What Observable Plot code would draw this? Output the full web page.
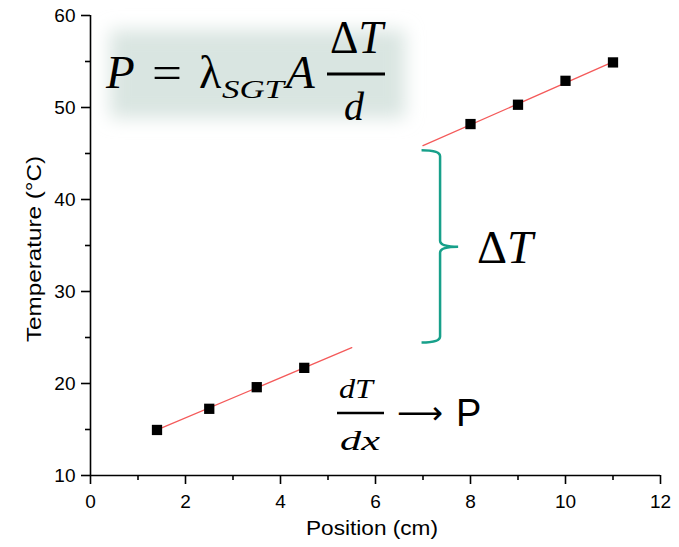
<!DOCTYPE html>
<html><head><meta charset="utf-8">
<script src="https://cdn.jsdelivr.net/npm/d3@7"></script>
<script src="https://cdn.jsdelivr.net/npm/@observablehq/plot@0.6"></script>
<style>body{margin:0;background:#fff;} #chart{position:relative;width:679px;height:547px;}</style>
</head><body><div id="chart"></div>
<script>
// Measured data (position in cm, temperature in °C)
const positions = [1.4, 2.5, 3.5, 4.5, 8, 9, 10, 11];
const temperatures = [14.95, 17.25, 19.6, 21.7, 48.2, 50.3, 52.9, 54.9];
// Linear fit segments (endpoints)
const fitLowX = [1.4, 5.5];
const fitLowY = [14.95, 23.9];
const fitHighX = [7.0, 11.0];
const fitHighY = [45.85, 54.95];
// Axis ticks
const xTicks = [0, 2, 4, 6, 8, 10, 12];
const xMinor = [1, 3, 5, 7, 9, 11];
const yTicks = [10, 20, 30, 40, 50, 60];
const yMinor = [15, 25, 35, 45, 55];
// Brace annotation anchors (x: ends, stem, tip; y: top, middle, bottom)
const braceX = [6.98, 7.37, 7.75];
const braceY = [45.3, 34.8, 24.4];
// Texts
const xLabel = "Position (cm)";
const yLabel = "Temperature (°C)";

const points = positions.map((x, i) => ({x, y: temperatures[i]}));
const fits = [
  ...fitLowX.map((x, i) => ({x, y: fitLowY[i], s: "low"})),
  ...fitHighX.map((x, i) => ({x, y: fitHighY[i], s: "high"}))
];

const axisStroke = 1.6;
const plot = Plot.plot({
  width: 679, height: 547,
  marginLeft: 90, marginRight: 19, marginTop: 15, marginBottom: 72,
  x: {domain: [0, 12], label: null},
  y: {domain: [10, 60], label: null},
  style: {fontFamily: "'Liberation Sans', Arial, sans-serif", fontSize: "19px", background: "white", color: "black", overflow: "visible"},
  marks: [
    Plot.line(fits, {x: "x", y: "y", z: "s", stroke: "#f45a5a", strokeWidth: 1.3}),
    Plot.dot(points, {x: "x", y: "y", symbol: "square", r: 5.8, fill: "black", stroke: "none"}),
    Plot.ruleX([0], {stroke: "black", strokeWidth: axisStroke}),
    Plot.ruleY([10], {stroke: "black", strokeWidth: axisStroke}),
    Plot.axisX({ticks: xTicks, tickSize: 9, tickPadding: 10, strokeWidth: axisStroke, fontSize: 19, label: null, tickFormat: d => String(d)}),
    Plot.axisX({ticks: xMinor, tickSize: 5, strokeWidth: axisStroke, label: null, tickFormat: () => ""}),
    Plot.axisY({ticks: yTicks, tickSize: 9, tickPadding: 6, strokeWidth: axisStroke, fontSize: 19, label: null, tickFormat: d => String(d)}),
    Plot.axisY({ticks: yMinor, tickSize: 5, strokeWidth: axisStroke, label: null, tickFormat: () => ""})
  ]
});
document.getElementById("chart").appendChild(plot);

const svg = d3.select(plot);
svg.selectAll('g[aria-label$="tick label"]').attr("font-size", 19);
const xs = plot.scale("x"), ys = plot.scale("y");

// soft background behind formula
const defs = svg.insert("defs", ":first-child");
const f = defs.append("filter").attr("id", "soft").attr("x", "-40%").attr("y", "-40%").attr("width", "180%").attr("height", "180%");
f.append("feGaussianBlur").attr("stdDeviation", 9);
svg.insert("rect", "defs + *").attr("x", 110).attr("y", 30).attr("width", 295).attr("height", 88)
  .attr("fill", "#d9e5e1").attr("filter", "url(#soft)");

const ann = svg.append("g").attr("text-anchor", "start");
const serif = "'Liberation Serif', 'Times New Roman', serif";
const sans = "'Liberation Sans', Arial, sans-serif";
function t(txt, x, y, size, opts = {}) {
  const el = ann.append("text").attr("x", x).attr("y", y).attr("font-size", size)
    .attr("font-family", opts.family || serif).attr("fill", "black")
    .attr("text-anchor", opts.anchor || "start").text(txt);
  if (opts.italic) el.attr("font-style", "italic");
  if (opts.len) el.attr("textLength", opts.len).attr("lengthAdjust", "spacingAndGlyphs");
  return el;
}
// Formula P = λ_SGT A ΔT/d
t("P", 106, 88, 47, {italic: true});
t("=", 152, 88, 46, {len: 30});
t("λ", 199, 88, 46);
t("SGT", 222, 98, 25, {italic: true, len: 62});
t("A", 286, 88, 47, {italic: true});
ann.append("line").attr("x1", 327).attr("x2", 385).attr("y1", 74).attr("y2", 74).attr("stroke", "black").attr("stroke-width", 3);
const dT1 = t("", 330, 53, 46, {len: 53});
dT1.append("tspan").text("Δ");
dT1.append("tspan").attr("font-style", "italic").text("T");
t("d", 344, 120, 40, {italic: true});

// Brace
const X0 = xs.apply(braceX[0]), X1 = xs.apply(braceX[1]), X2 = xs.apply(braceX[2]);
const Y0 = ys.apply(braceY[0]), Ym = ys.apply(braceY[1]), Y2 = ys.apply(braceY[2]);
const r = 6;
ann.append("path").attr("fill", "none").attr("stroke", "#17a08a").attr("stroke-width", 2.5)
  .attr("d", `M${X0},${Y0} Q${X1},${Y0} ${X1},${Y0 + r} L${X1},${Ym - r} Q${X1},${Ym} ${X2},${Ym} Q${X1},${Ym} ${X1},${Ym + r} L${X1},${Y2 - r} Q${X1},${Y2} ${X0},${Y2}`);
const dT2 = t("", 477, 263, 46, {len: 56});
dT2.append("tspan").text("Δ");
dT2.append("tspan").attr("font-style", "italic").text("T");

// dT/dx -> P
t("dT", 339, 398, 27, {italic: true, len: 34});
ann.append("line").attr("x1", 337).attr("x2", 384).attr("y1", 413).attr("y2", 413).attr("stroke", "black").attr("stroke-width", 2.5);
t("dx", 340, 450, 27, {italic: true, len: 40});
t("⟶", 397, 424, 32, {family: "'DejaVu Sans', sans-serif", len: 46});
t("P", 456, 426, 38, {family: sans});

// Axis titles
t(yLabel, 0, 0, 20, {family: sans, len: 186, anchor: "middle"})
  .attr("transform", "translate(41,249) rotate(-90)");
t(xLabel, 372, 535, 20, {family: sans, len: 132, anchor: "middle"});
</script>
</body></html>
